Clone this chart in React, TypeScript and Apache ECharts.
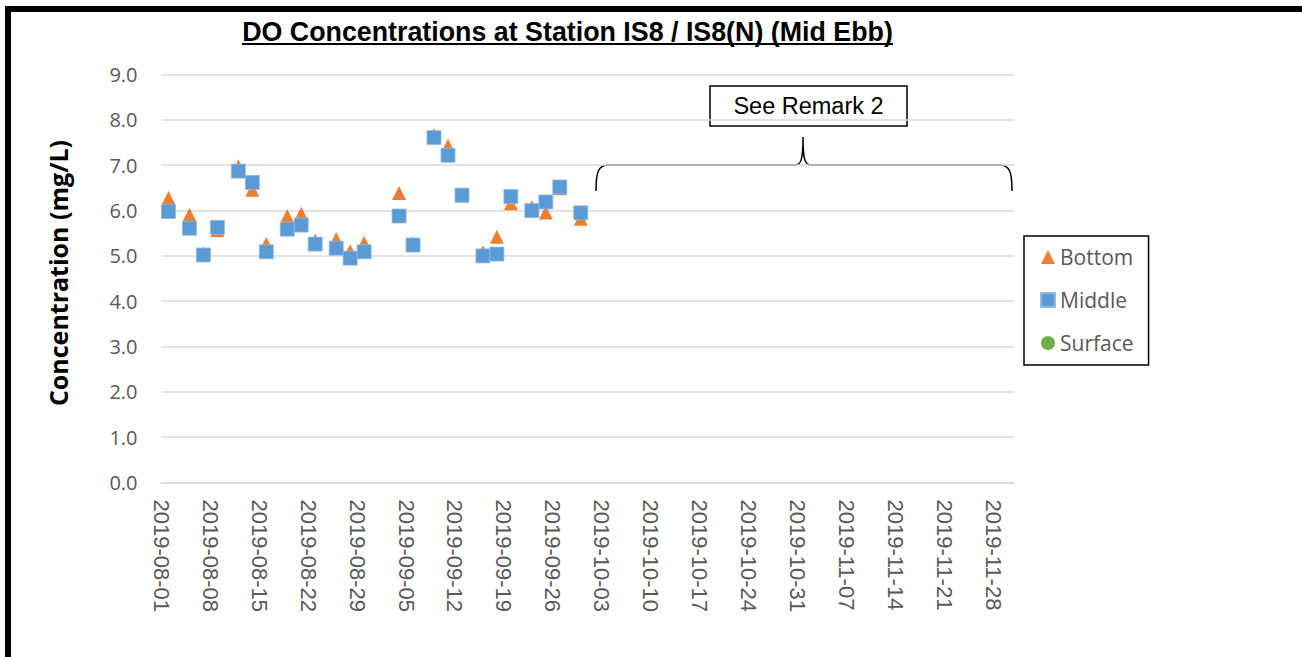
import React, { useEffect, useRef } from "react";
import * as echarts from "echarts";

const DAY = 86400000;

const sampleDates = [
  "2019-08-02", "2019-08-05", "2019-08-07", "2019-08-09", "2019-08-12",
  "2019-08-14", "2019-08-16", "2019-08-19", "2019-08-21", "2019-08-23",
  "2019-08-26", "2019-08-28", "2019-08-30", "2019-09-04", "2019-09-06",
  "2019-09-09", "2019-09-11", "2019-09-13", "2019-09-16", "2019-09-18",
  "2019-09-20", "2019-09-23", "2019-09-25", "2019-09-27", "2019-09-30",
];

const bottomValues = [
  6.28, 5.91, 5.05, 5.57, 6.98, 6.46, 5.26, 5.88, 5.93, 5.34,
  5.37, 5.11, 5.29, 6.39, 5.28, 7.67, 7.43, 6.33, 5.08, 5.42,
  6.16, 6.08, 5.96, 6.49, 5.82,
];

const middleValues = [
  5.98, 5.61, 5.02, 5.63, 6.87, 6.62, 5.09, 5.59, 5.68, 5.26,
  5.17, 4.95, 5.09, 5.88, 5.24, 7.61, 7.22, 6.34, 5.0, 5.04,
  6.31, 6.0, 6.19, 6.52, 5.95,
];

const surfaceValues: number[] = [];

const seriesNames = ["Bottom", "Middle", "Surface"];
const axisStart = "2019-08-01";
const axisEnd = "2019-12-01";
const yTicks = [0, 9, 1];

const toTime = (d: string) => new Date(d + "T00:00:00Z").getTime();
const pairs = (vals: number[]) => vals.map((v, i) => [toTime(sampleDates[i]), v]);

const BRACE =
  "M596,191 C596,173 598,165 608,165 L795,165 C801,165 803,160 803,137 C803,160 805,165 811,165 L1000,165 C1010,165 1012,173 1012,191";

let registered = false;

export default function App() {
  const ref = useRef<HTMLDivElement>(null);
  useEffect(() => {
    if (!registered) {
      echarts.graphic.registerShape("brace", echarts.graphic.extendPath(BRACE, {}));
      registered = true;
    }
    const chart = echarts.init(ref.current!, null, { renderer: "svg" });
    const option: any = {
      animation: false,
      backgroundColor: "#ffffff",
      grid: { left: 161.5, right: 288, top: 74.6, bottom: 174.5 },
      xAxis: {
        type: "value",
        min: toTime(axisStart),
        max: toTime(axisEnd),
        interval: 7 * DAY,
        axisLine: { show: true, lineStyle: { color: "#d9d9d9", width: 1.5 } },
        axisTick: { show: false },
        splitLine: { show: false },
        axisLabel: {
          rotate: -90,
          margin: 17,
          showMaxLabel: false,
          color: "#595959",
          fontFamily: "Liberation Sans",
          fontSize: 22,
          formatter: (v: number) => new Date(v).toISOString().slice(0, 10),
        },
      },
      yAxis: {
        type: "value",
        min: yTicks[0],
        max: yTicks[1],
        interval: yTicks[2],
        axisLine: { show: false },
        axisTick: { show: false },
        splitLine: { show: true, lineStyle: { color: "#d9d9d9", width: 1.5 } },
        axisLabel: {
          margin: 24,
          color: "#595959",
          fontFamily: "Open Sans",
          fontSize: 20,
          formatter: (v: number) => v.toFixed(1),
        },
      },
      legend: {
        orient: "vertical",
        left: 1024,
        top: 236,
        borderColor: "#000",
        borderWidth: 1.5,
        backgroundColor: "#fff",
        padding: [10, 15, 11, 16],
        itemGap: 21,
        itemWidth: 14,
        itemHeight: 14,
        textStyle: { fontFamily: "Open Sans", fontSize: 21, color: "#595959", lineHeight: 22 },
        data: [
          { name: seriesNames[0], icon: "triangle" },
          { name: seriesNames[1], icon: "rect" },
          { name: seriesNames[2], icon: "circle" },
        ],
      },
      series: [
        {
          name: seriesNames[0],
          type: "scatter",
          symbol: "triangle",
          symbolSize: 14,
          itemStyle: { color: "#ED7D31", opacity: 1 },
          data: pairs(bottomValues),
        },
        {
          name: seriesNames[1],
          type: "scatter",
          symbol: "rect",
          symbolSize: 14,
          itemStyle: { color: "#5B9BD5", borderColor: "#8DB9E3", borderWidth: 0.8, opacity: 1 },
          data: pairs(middleValues),
        },
        {
          name: seriesNames[2],
          type: "scatter",
          symbol: "circle",
          symbolSize: 14,
          itemStyle: { color: "#70AD47", opacity: 1 },
          data: pairs(surfaceValues),
        },
      ],
      graphic: [
        { type: "rect", shape: { x: 5, y: 6, width: 6, height: 651 }, style: { fill: "#000" } },
        { type: "rect", shape: { x: 5, y: 6, width: 1297, height: 6 }, style: { fill: "#000" } },
        {
          type: "text",
          x: 567.5,
          y: 32,
          style: {
            text: "DO Concentrations at Station IS8 / IS8(N) (Mid Ebb)",
            fontFamily: "Liberation Sans",
            fontWeight: "bold",
            fontSize: 26.8,
            fill: "#000",
            align: "center",
            verticalAlign: "middle",
          },
        },
        { type: "line", shape: { x1: 242, y1: 44, x2: 893, y2: 44 }, style: { stroke: "#000", lineWidth: 2 } },
        {
          type: "text",
          x: 58,
          y: 273,
          rotation: Math.PI / 2,
          style: {
            text: "Concentration (mg/L)",
            fontFamily: "Open Sans",
            fontWeight: "bold",
            fontSize: 25,
            fill: "#000",
            align: "center",
            verticalAlign: "middle",
          },
        },
        {
          type: "rect",
          shape: { x: 710, y: 86, width: 197, height: 40 },
          style: { fill: "#fff", stroke: "#000", lineWidth: 1.5 },
        },
        {
          type: "text",
          x: 808.5,
          y: 106,
          style: {
            text: "See Remark 2",
            fontFamily: "Liberation Sans",
            fontSize: 23.5,
            fill: "#000",
            align: "center",
            verticalAlign: "middle",
          },
        },
        {
          type: "brace",
          x: 0,
          y: 0,
          style: { fill: "none", stroke: "#000", lineWidth: 1.5 },
        },
      ],
    };
    chart.setOption(option);
    return () => chart.dispose();
  }, []);
  return (
    <div
      ref={ref}
      style={{ position: "absolute", left: 0, top: 0, width: 1302, height: 657 }}
    />
  );
}
